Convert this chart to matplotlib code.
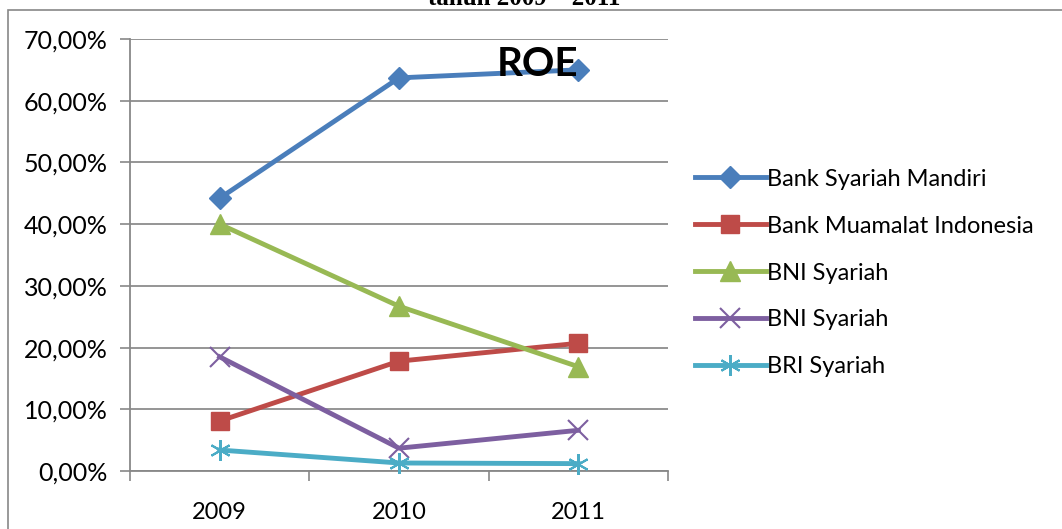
import matplotlib.pyplot as plt
from matplotlib.patches import Rectangle
from matplotlib.ticker import FuncFormatter

years = ['2009', '2010', '2011']
mandiri = [44.2, 63.7, 65.0]
muamalat = [8.1, 17.8, 20.7]
bni_green = [40.0, 26.7, 16.9]
bni_purple = [18.5, 3.7, 6.6]
bri = [3.4, 1.3, 1.2]

plt.rcParams['font.family'] = ['Lato', 'DejaVu Sans']

fig = plt.figure(figsize=(10.62, 5.29), dpi=100)
ax = fig.add_axes([0.1224, 0.1096, 0.5066, 0.8167])

x = range(len(years))
series = [
    ('Bank Syariah Mandiri', mandiri, '#4a7ebb', 'D', 11, 0),
    ('Bank Muamalat Indonesia', muamalat, '#be4b48', 's', 13, 0),
    ('BNI Syariah', bni_green, '#98b954', '^', 14, 0),
    ('BNI Syariah', bni_purple, '#7d5fa0', 'x', 14, 1.5),
    ('BRI Syariah', bri, '#4bacc6', (6, 2, 0), 15, 1.5),
]
for name, vals, color, marker, ms, mew in series:
    kw = dict(markeredgewidth=mew) if mew else dict(markeredgecolor=color)
    ax.plot(x, vals, color=color, lw=3.5, marker=marker, markersize=ms,
            label=name, clip_on=False, zorder=3, **kw)

ax.set_xlim(-0.5, 2.5)
ax.set_ylim(0, 70)
ax.set_yticks(range(0, 71, 10))
ax.yaxis.set_major_formatter(FuncFormatter(lambda v, p: f'{v:.2f}%'.replace('.', ',')))
ax.set_xticks(list(x))
ax.set_xticklabels(years)
ax.set_xticks([-0.5, 0.5, 1.5, 2.5], minor=True)
ax.tick_params(axis='x', which='major', length=0, pad=22, labelsize=17)
ax.tick_params(axis='x', which='minor', length=7, color='#888888', width=1.2)
ax.tick_params(axis='y', length=7, color='#888888', width=1.2, labelsize=18, pad=9)
ax.grid(axis='y', color='#8c8c8c', lw=1.3)
ax.set_axisbelow(True)
for s in ['top', 'right']:
    ax.spines[s].set_visible(False)
for s in ['left', 'bottom']:
    ax.spines[s].set_color('#888888')
    ax.spines[s].set_linewidth(1.3)

ax.text(1.77, 65.8, 'ROE', fontsize=29, fontweight='bold', ha='center', va='center',
        zorder=4)

ax.legend(loc='center left', bbox_to_anchor=(683 / 1062, 1 - 273 / 529),
          bbox_transform=fig.transFigure, frameon=False, fontsize=17,
          handlelength=3.0, labelspacing=1.1, handletextpad=0.05, borderpad=0)

fig.add_artist(Rectangle((8 / 1062, -0.01), 1.1, 1 - 10 / 529 + 0.01,
                         transform=fig.transFigure, fill=False, edgecolor='#888888',
                         lw=1.2))
fig.text(524 / 1062, 1 - 5 / 529, 'tahun 2009 \u2013 2011', family='Liberation Serif',
         fontsize=18, fontweight='bold', ha='center', va='baseline')

fig.savefig('out.png', dpi=100)
